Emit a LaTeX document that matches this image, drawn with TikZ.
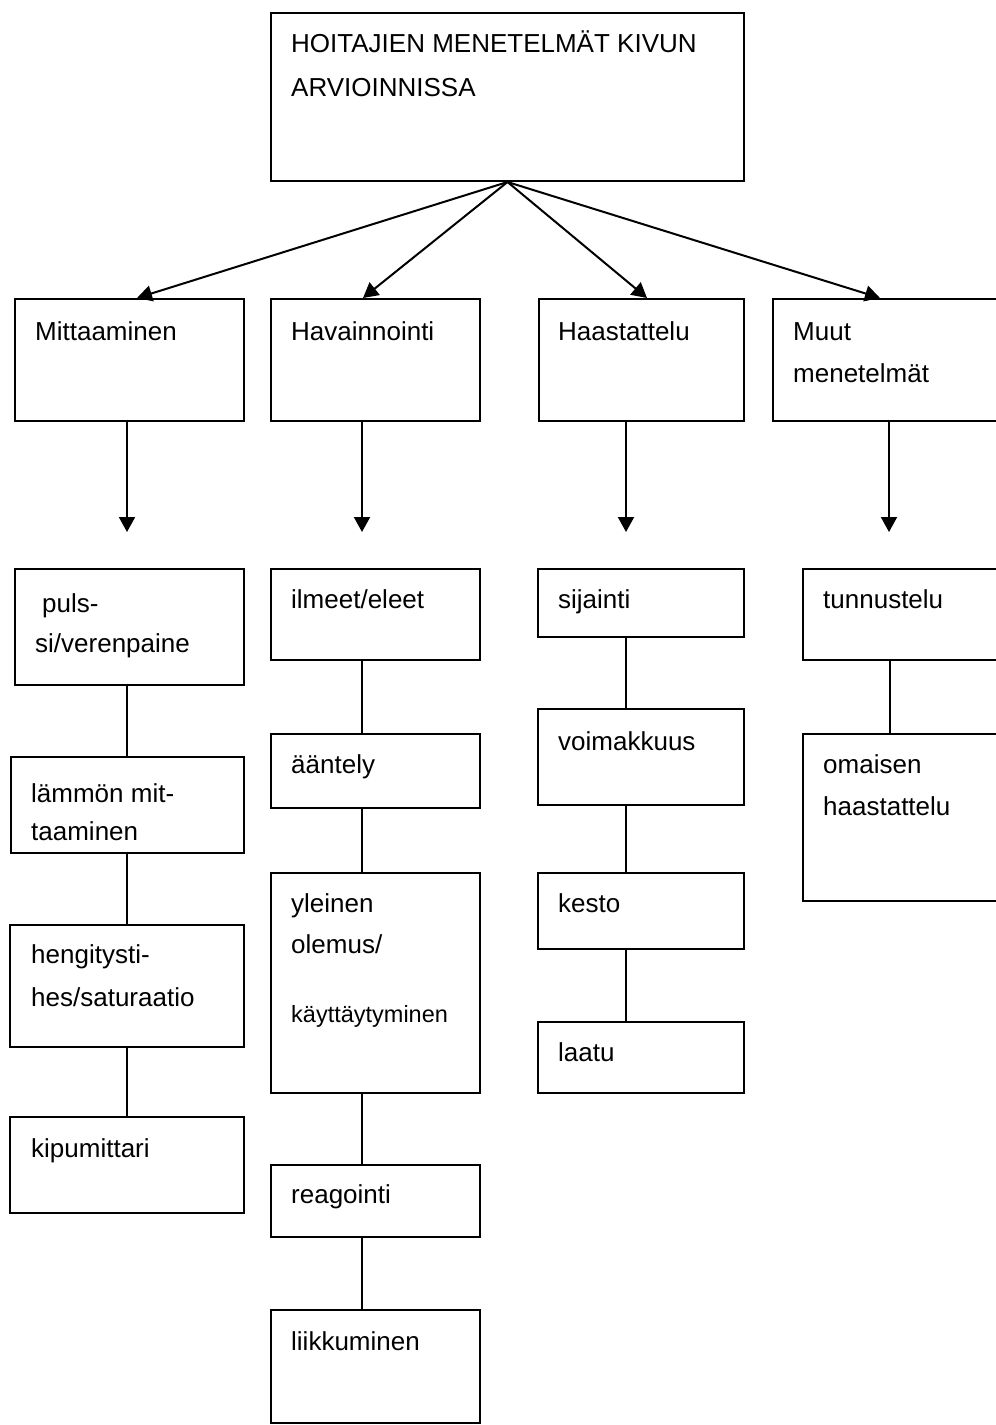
\documentclass[tikz,border=0pt]{standalone}
\usepackage{fontspec}
\setmainfont{Liberation Sans}
\usetikzlibrary{arrows.meta}

\begin{document}
\begin{tikzpicture}[x=1pt, y=-1pt,
    box/.style={draw, line width=2pt, anchor=north west, inner sep=0pt},
    txt/.style={anchor=base west, inner sep=0pt, align=left, font=\fontsize{26}{42}\selectfont},
    arr/.style={line width=2pt, -{Triangle[length=15pt,width=16pt]}},
    link/.style={line width=2pt}]
    \clip (0,0) rectangle (996,1425);
    \fill[white] (0,0) rectangle (996,1425);
    % main box (multi-line texts sit on the baseline of their last line)
    \node[box, minimum width=473pt, minimum height=168pt] (top) at (270,12) {};
    \node[txt, font=\fontsize{26}{44}\selectfont] (top-t) at (291,96) {HOITAJIEN MENETELMÄT KIVUN\\ARVIOINNISSA};
    % methods
    \node[box, minimum width=229pt, minimum height=122pt] (mitt) at (14,298) {};
    \node[txt] (mitt-t) at (35,340) {Mittaaminen};
    \node[box, minimum width=209pt, minimum height=122pt] (hav) at (270,298) {};
    \node[txt] (hav-t) at (291,340) {Havainnointi};
    \node[box, minimum width=205pt, minimum height=122pt] (haas) at (538,298) {};
    \node[txt] (haas-t) at (558,340) {Haastattelu};
    \node[box, minimum width=240pt, minimum height=122pt] (muut) at (772,298) {};
    \node[txt] (muut-t) at (793,382) {Muut\\menetelmät};
    \draw[arr] (top.south) -- (mitt.north -| 137,0);
    \draw[arr] (top.south) -- (hav.north -| 363,0);
    \draw[arr] (top.south) -- (haas.north -| 647,0);
    \draw[arr] (top.south) -- (muut.north -| 880,0);
    \coordinate (mitt-end) at (127,532);
    \coordinate (hav-end) at (362,532);
    \coordinate (haas-end) at (626,532);
    \coordinate (muut-end) at (889,532);
    \draw[arr] (mitt.south -| mitt-end) -- (mitt-end);
    \draw[arr] (hav.south -| hav-end) -- (hav-end);
    \draw[arr] (haas.south -| haas-end) -- (haas-end);
    \draw[arr] (muut.south -| muut-end) -- (muut-end);
    % Mittaaminen
    \node[box, minimum width=229pt, minimum height=116pt] (puls) at (14,568) {};
    \node[txt, font=\fontsize{26}{40}\selectfont] (puls-t) at (35,652) {\hspace{7pt}puls-\\si/verenpaine};
    \node[box, minimum width=233pt, minimum height=96pt] (lamm) at (10,756) {};
    \node[txt, font=\fontsize{26}{38}\selectfont] (lamm-t) at (31,840) {lämmön mit-\\taaminen};
    \node[box, minimum width=234pt, minimum height=122pt] (heng) at (9,924) {};
    \node[txt, font=\fontsize{26}{43}\selectfont] (heng-t) at (31,1006) {hengitysti-\\hes/saturaatio};
    \node[box, minimum width=234pt, minimum height=96pt] (kipu) at (9,1116) {};
    \node[txt] (kipu-t) at (31,1157) {kipumittari};
    \draw[link] (puls.south -| 127,0) -- (lamm.north -| 127,0);
    \draw[link] (lamm.south -| 127,0) -- (heng.north -| 127,0);
    \draw[link] (heng.south -| 127,0) -- (kipu.north -| 127,0);
    % Havainnointi
    \node[box, minimum width=209pt, minimum height=91pt] (ilme) at (270,568) {};
    \node[txt] (ilme-t) at (291,608) {ilmeet/eleet};
    \node[box, minimum width=209pt, minimum height=74pt] (aant) at (270,733) {};
    \node[txt] (aant-t) at (291,773) {ääntely};
    \node[box, minimum width=209pt, minimum height=220pt] (ylei) at (270,872) {};
    \node[txt, font=\fontsize{26}{41}\selectfont] (ylei-t) at (291,953) {yleinen\\olemus/};
    \node[txt, font=\fontsize{23.5}{30}\selectfont] (kayt-t) at (291,1022) {käyttäytyminen};
    \node[box, minimum width=209pt, minimum height=72pt] (reag) at (270,1164) {};
    \node[txt] (reag-t) at (291,1203) {reagointi};
    \node[box, minimum width=209pt, minimum height=113pt] (liik) at (270,1309) {};
    \node[txt] (liik-t) at (291,1350) {liikkuminen};
    \draw[link] (ilme.south -| 362,0) -- (aant.north -| 362,0);
    \draw[link] (aant.south -| 362,0) -- (ylei.north -| 362,0);
    \draw[link] (ylei.south -| 362,0) -- (reag.north -| 362,0);
    \draw[link] (reag.south -| 362,0) -- (liik.north -| 362,0);
    % Haastattelu
    \node[box, minimum width=206pt, minimum height=68pt] (sija) at (537,568) {};
    \node[txt] (sija-t) at (558,608) {sijainti};
    \node[box, minimum width=206pt, minimum height=96pt] (voim) at (537,708) {};
    \node[txt] (voim-t) at (558,750) {voimakkuus};
    \node[box, minimum width=206pt, minimum height=76pt] (kest) at (537,872) {};
    \node[txt] (kest-t) at (558,912) {kesto};
    \node[box, minimum width=206pt, minimum height=71pt] (laat) at (537,1021) {};
    \node[txt] (laat-t) at (558,1061) {laatu};
    \draw[link] (sija.south -| 626,0) -- (voim.north -| 626,0);
    \draw[link] (voim.south -| 626,0) -- (kest.north -| 626,0);
    \draw[link] (kest.south -| 626,0) -- (laat.north -| 626,0);
    % Muut menetelmät
    \node[box, minimum width=210pt, minimum height=91pt] (tunn) at (802,568) {};
    \node[txt] (tunn-t) at (823,608) {tunnustelu};
    \node[box, minimum width=210pt, minimum height=167pt] (omai) at (802,733) {};
    \node[txt] (omai-t) at (823,815) {omaisen\\haastattelu};
    \draw[link] (tunn.south -| 890,0) -- (omai.north -| 890,0);
\end{tikzpicture}
\end{document}
